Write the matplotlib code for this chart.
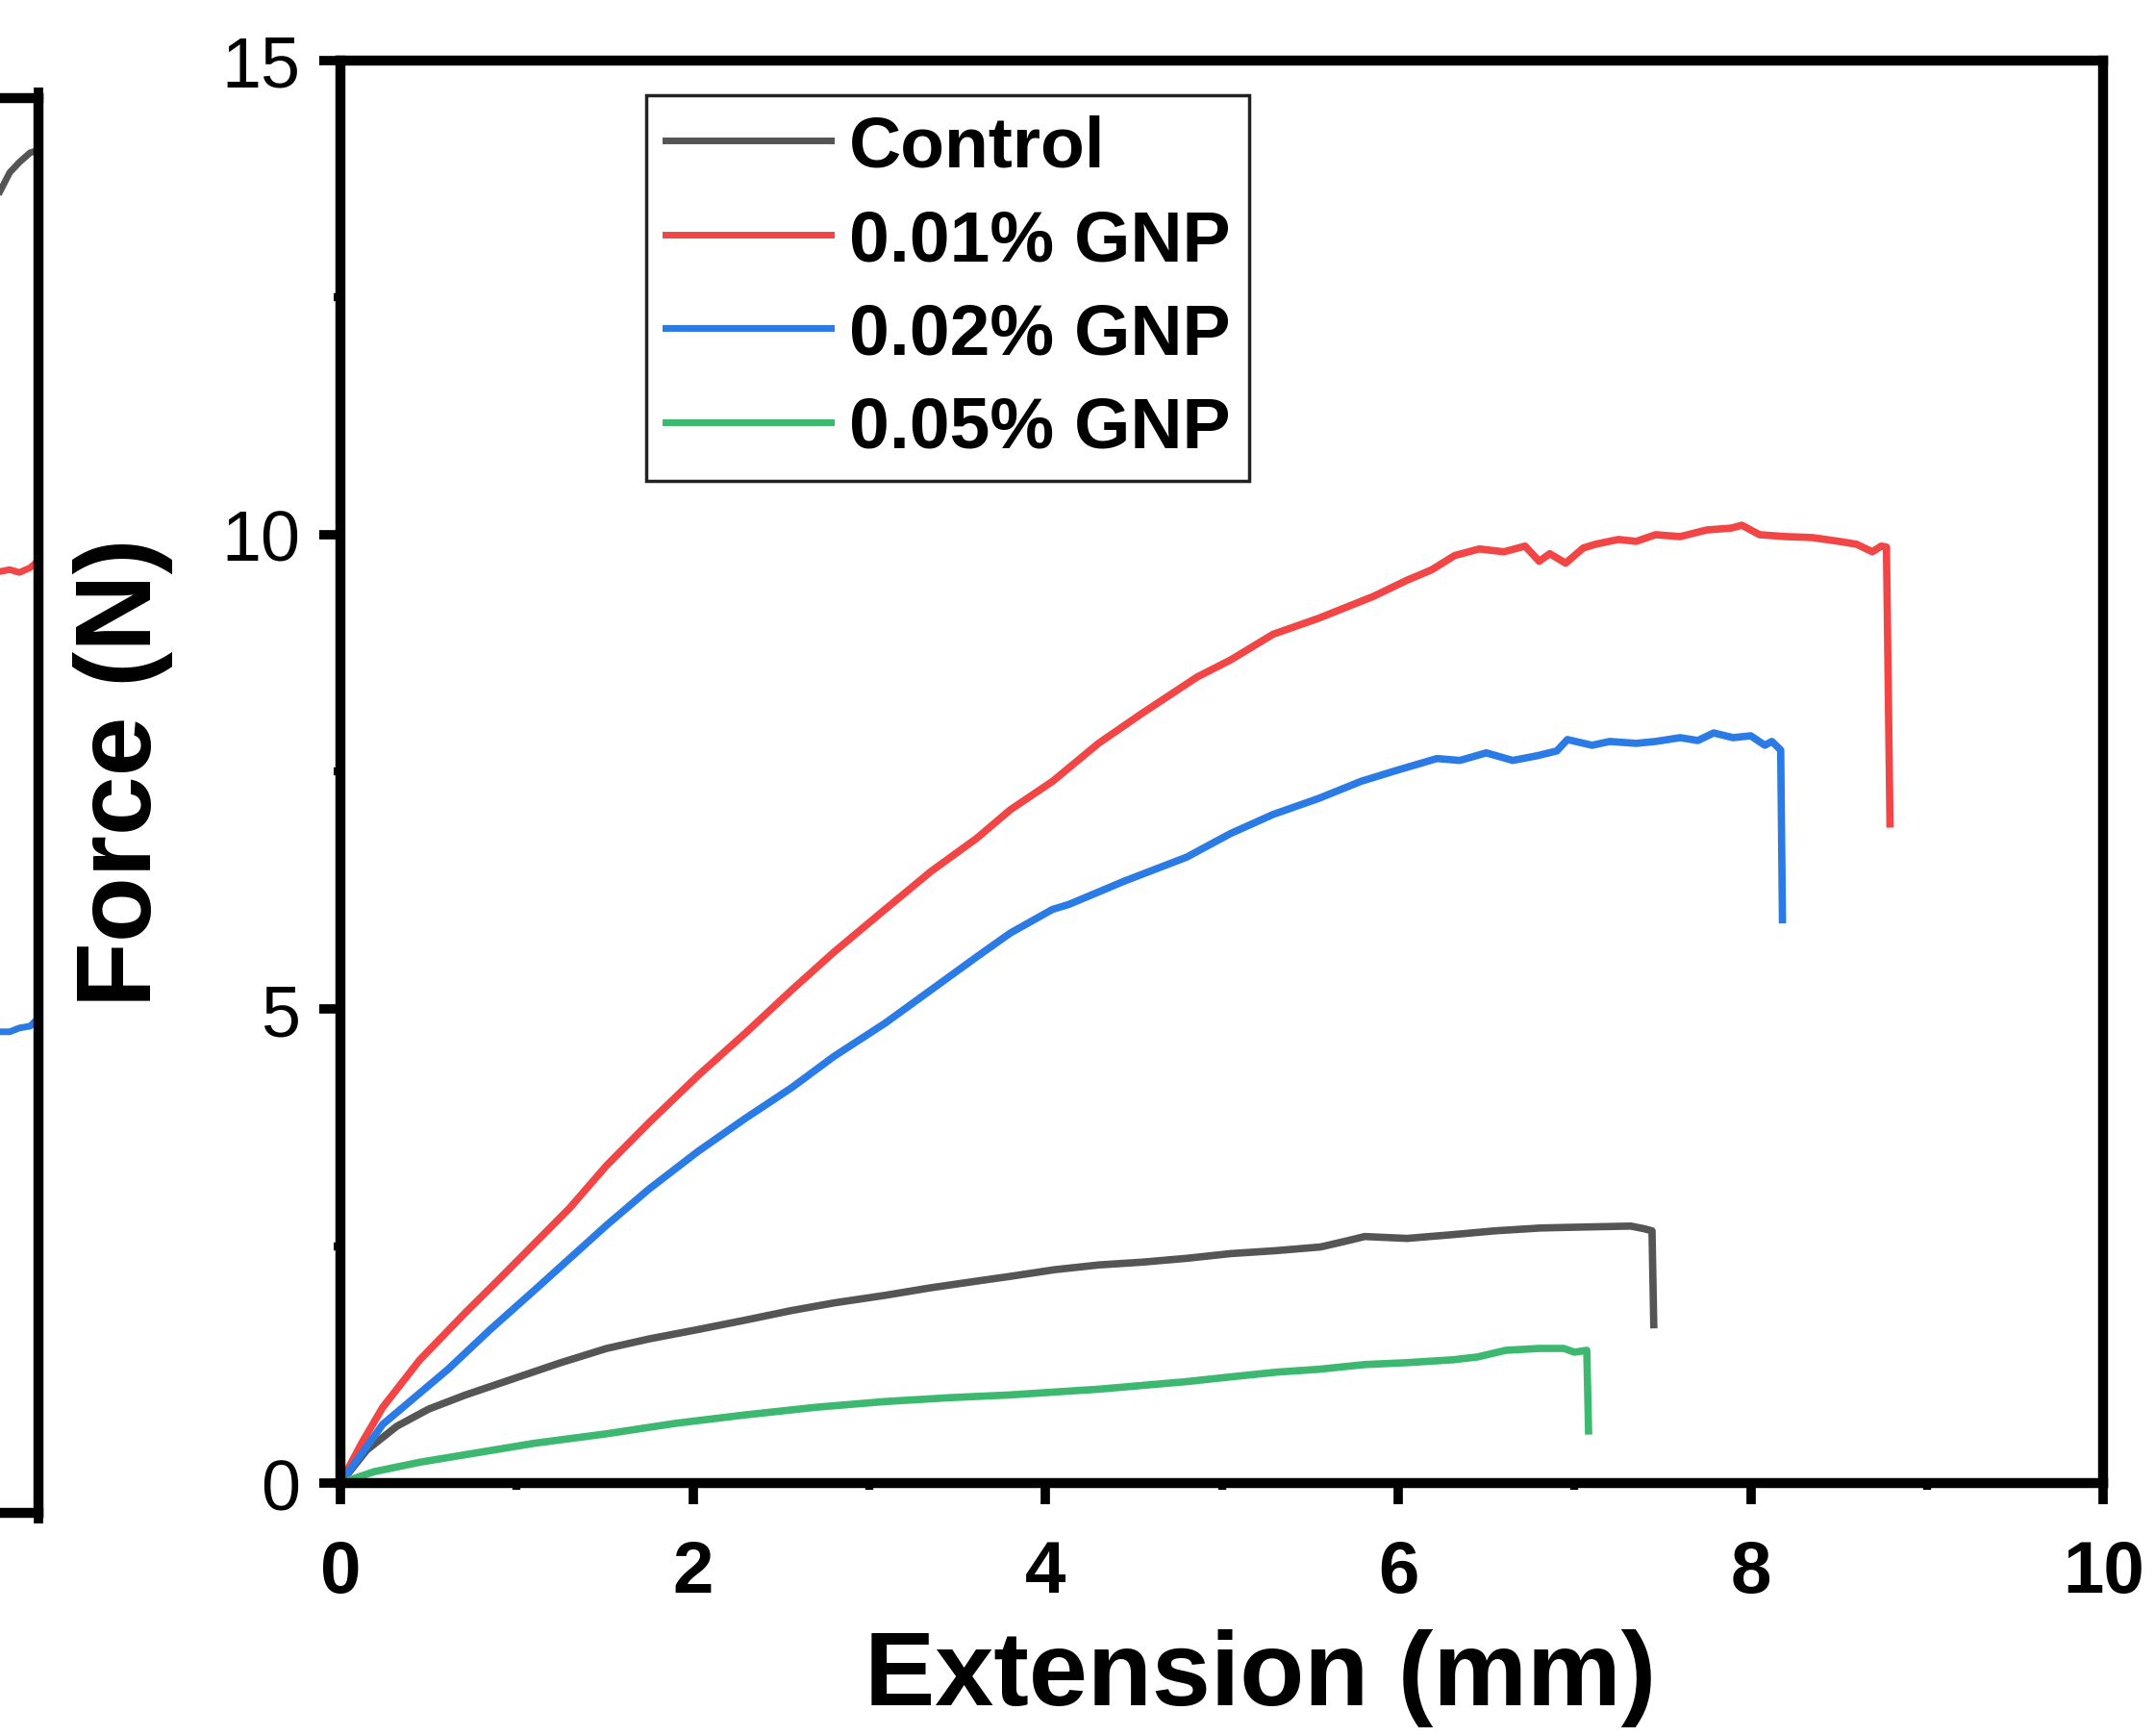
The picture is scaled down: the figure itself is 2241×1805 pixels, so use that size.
"""Force vs Extension of GNP samples"""

import matplotlib
matplotlib.use('Agg')
from matplotlib import pyplot as plt
from matplotlib.ticker import MultipleLocator

plt.rcParams['font.family'] = ['Liberation Sans', 'DejaVu Sans']

#series
labels = ['Control', '0.01% GNP', '0.02% GNP', '0.05% GNP']
colors = ['#555555', '#F24545', '#2A7BE6', '#3DB870']

control_x = [0, 0.15, 0.32, 0.5, 0.71, 0.98, 1.25, 1.51, 1.75, 2.03, 2.3, 2.56, 2.8, 3.09, 3.35, 3.61, 3.8,
             4.05, 4.3, 4.55, 4.8, 5.05, 5.3, 5.56, 5.7, 5.81, 6.05, 6.31, 6.55, 6.81, 7.05, 7.32, 7.4, 7.44, 7.45]
control_y = [0, 0.35, 0.6, 0.78, 0.93, 1.1, 1.27, 1.42, 1.52, 1.62, 1.72, 1.82, 1.9, 1.98, 2.06, 2.13, 2.18,
             2.25, 2.3, 2.33, 2.37, 2.42, 2.45, 2.49, 2.55, 2.6, 2.58, 2.62, 2.66, 2.69, 2.7, 2.71, 2.68, 2.66, 1.67]

gnp01_x = [0, 0.12, 0.24, 0.45, 0.71, 0.9, 1.06, 1.3, 1.51, 1.75, 2.03, 2.3, 2.56, 2.8, 3.09, 3.35, 3.61, 3.8,
           4.04, 4.3, 4.55, 4.86, 5.05, 5.29, 5.55, 5.86, 6.05, 6.19, 6.32, 6.46, 6.6, 6.72, 6.8, 6.86, 6.95,
           7.05, 7.12, 7.25, 7.35, 7.46, 7.6, 7.75, 7.89, 7.95, 8.05, 8.2, 8.35, 8.5, 8.6, 8.69, 8.74, 8.77, 8.79]
gnp01_y = [0, 0.42, 0.8, 1.3, 1.8, 2.15, 2.45, 2.9, 3.35, 3.8, 4.3, 4.75, 5.2, 5.6, 6.05, 6.45, 6.8, 7.1,
           7.4, 7.8, 8.12, 8.5, 8.68, 8.95, 9.12, 9.35, 9.52, 9.63, 9.78, 9.85, 9.82, 9.88, 9.72, 9.8, 9.7,
           9.86, 9.9, 9.95, 9.93, 10.0, 9.98, 10.05, 10.07, 10.1, 10.0, 9.98, 9.97, 9.93, 9.9, 9.82, 9.88, 9.87, 6.95]

gnp02_x = [0, 0.24, 0.61, 0.85, 1.11, 1.51, 1.75, 2.03, 2.3, 2.56, 2.8, 3.09, 3.35, 3.61, 3.8, 4.04, 4.13,
           4.45, 4.8, 5.05, 5.29, 5.55, 5.79, 6.0, 6.22, 6.35, 6.5, 6.65, 6.79, 6.9, 6.96, 7.1, 7.2, 7.35,
           7.46, 7.6, 7.7, 7.79, 7.9, 8.0, 8.08, 8.12, 8.17, 8.18]
gnp02_y = [0, 0.62, 1.2, 1.62, 2.05, 2.72, 3.1, 3.5, 3.85, 4.17, 4.5, 4.85, 5.2, 5.55, 5.8, 6.05, 6.1,
           6.35, 6.6, 6.85, 7.05, 7.22, 7.4, 7.52, 7.64, 7.62, 7.7, 7.62, 7.67, 7.72, 7.84, 7.78, 7.82, 7.8,
           7.82, 7.86, 7.83, 7.91, 7.86, 7.88, 7.78, 7.82, 7.73, 5.94]

gnp05_x = [0, 0.19, 0.45, 0.71, 1.1, 1.51, 1.9, 2.3, 2.7, 3.09, 3.45, 3.8, 4.05, 4.3, 4.55, 4.8, 5.05, 5.31,
           5.55, 5.81, 6.05, 6.31, 6.45, 6.61, 6.8, 6.94, 7.0, 7.07, 7.08]
gnp05_y = [0, 0.12, 0.22, 0.3, 0.42, 0.52, 0.63, 0.72, 0.8, 0.86, 0.9, 0.93, 0.96, 0.99, 1.03, 1.07, 1.12, 1.17,
           1.2, 1.25, 1.27, 1.3, 1.33, 1.4, 1.42, 1.42, 1.38, 1.4, 0.55]

#tail end of the neighbouring panel that is cut off on the left
side_x = [9.64, 9.73, 9.82, 9.92, 10.0]
side_control = [14.01, 14.21, 14.32, 14.42, 14.45]
side_gnp01 = [9.98, 10.0, 9.97, 10.02, 10.1]
side_gnp02 = [5.1, 5.1, 5.14, 5.16, 5.25]

series = [(control_x, control_y), (gnp01_x, gnp01_y), (gnp02_x, gnp02_y), (gnp05_x, gnp05_y)]

fig = plt.figure(figsize=(22.41, 18.06), dpi=100)

#neighbouring panel fragment
ax0 = fig.add_axes([-0.482, 0.1285, 0.5, 0.8145])
for ys, c in zip([side_control, side_gnp01, side_gnp02], colors[:3]):
    ax0.plot(side_x, ys, color=c, lw=5)
ax0.set_xlim(0, 10)
ax0.set_ylim(0, 15)
ax0.set_xticks([10])
ax0.set_yticks([])
ax0.tick_params(axis='x', direction='out', length=8, width=7, top=True, labelbottom=False)
for s in ax0.spines.values():
    s.set_linewidth(7.5)

#main panel
ax = fig.add_axes([0.158, 0.1456, 0.818, 0.819])
for (xs, ys), c, lab in zip(series, colors, labels):
    ax.plot(xs, ys, color=c, lw=5.5, label=lab)

ax.set_xlim(0, 10)
ax.set_ylim(0, 15)
ax.xaxis.set_major_locator(MultipleLocator(2))
ax.xaxis.set_minor_locator(MultipleLocator(1))
ax.yaxis.set_major_locator(MultipleLocator(5))
ax.yaxis.set_minor_locator(MultipleLocator(2.5))
ax.tick_params(which='major', direction='out', length=16, width=7)
ax.tick_params(which='minor', direction='out', length=5, width=6)
ax.tick_params(axis='x', which='major', pad=26, labelsize=55)
ax.tick_params(axis='y', which='major', pad=14, labelsize=53)
for t in ax.get_xticklabels():
    t.set_fontweight('bold')
for s in ax.spines.values():
    s.set_linewidth(7.5)

ax.set_xlabel('Extension (mm)', fontsize=79, fontweight='bold')
ax.set_ylabel('Force (N)', fontsize=80, fontweight='bold')
ax.xaxis.set_label_coords(0.522, -0.102)
ax.yaxis.set_label_coords(-0.095, 0.5)

leg = ax.legend(loc='upper left', bbox_to_anchor=(672 / 2241, 1 - 100 / 1806), bbox_transform=fig.transFigure,
                borderaxespad=0, fancybox=False, framealpha=1, edgecolor='#222222',
                prop={'size': 54, 'weight': 'bold'}, handlelength=2.3, handletextpad=0.25,
                labelspacing=0.38, borderpad=0.26)
leg.get_frame().set_linewidth(2.5)
for h in leg.get_lines():
    h.set_linewidth(5)

fig.savefig('out.png', dpi=100)
